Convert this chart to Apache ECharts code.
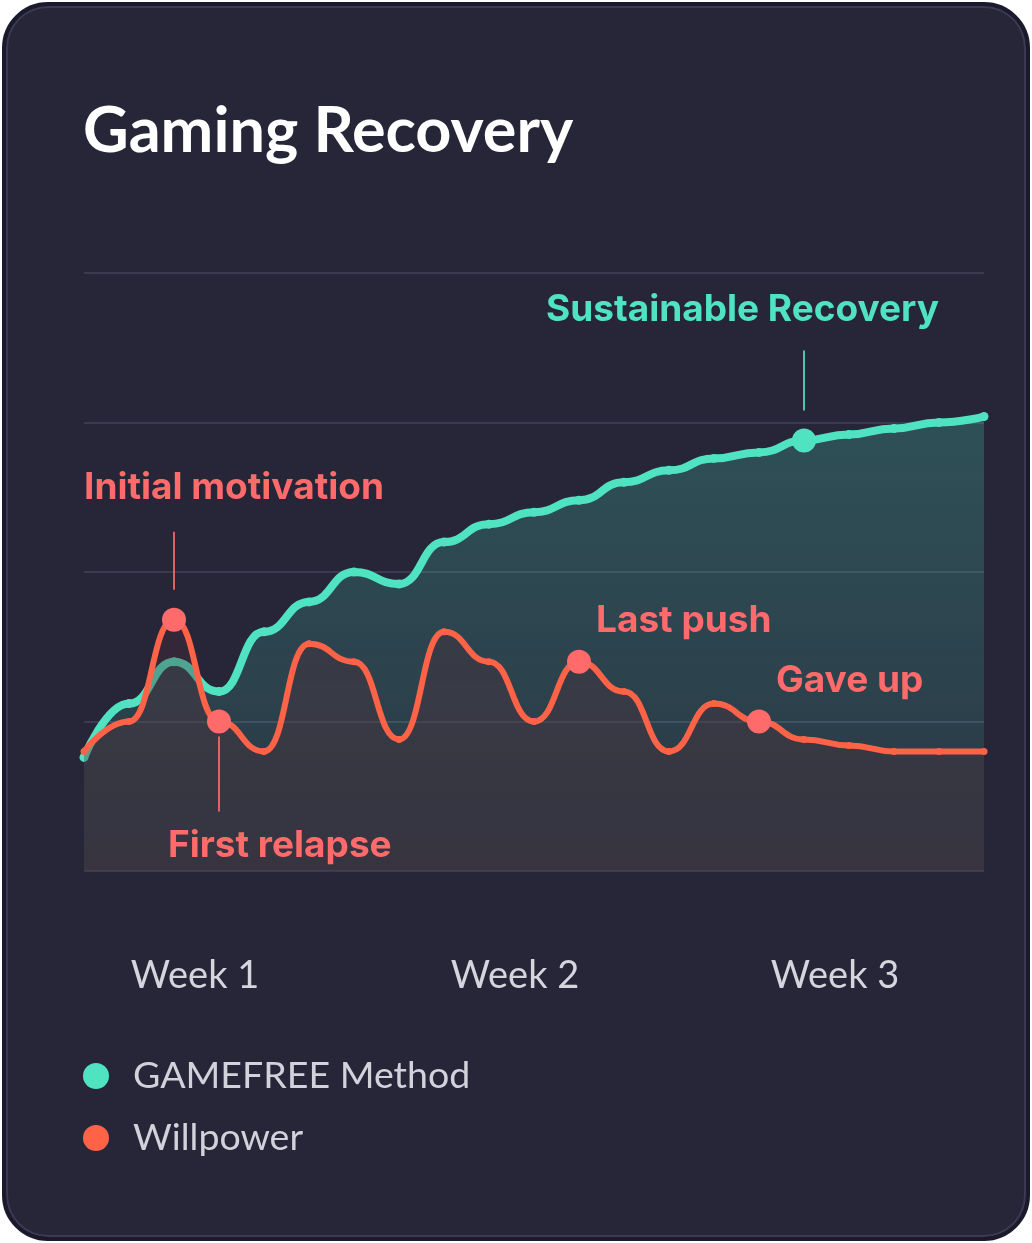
<!DOCTYPE html>
<html>
<head>
<meta charset="utf-8">
<script src="https://cdn.jsdelivr.net/npm/echarts@6/dist/echarts.min.js"></script>
<style>
  html, body { margin: 0; padding: 0; background: #ffffff; }
  #card {
    position: absolute; left: 2px; top: 2px; width: 1028px; height: 1239px;
    box-sizing: border-box; border-radius: 46px; background: #262638;
    border: 4px solid #1b1a2c; box-shadow: inset 0 0 0 2px #3b3a52;
  }
  #chart { position: absolute; left: 0; top: 0; width: 1032px; height: 1243px; }
</style>
</head>
<body>
<div id="card"></div>
<div id="chart"></div>
<script>
// ---- data ----
const days = ['Day 1','Day 2','Day 3','Day 4','Day 5','Day 6','Day 7','Day 8','Day 9','Day 10','Day 11',
              'Day 12','Day 13','Day 14','Day 15','Day 16','Day 17','Day 18','Day 19','Day 20','Day 21'];
const gamefree = [19, 28, 35, 30, 40, 45, 50, 48, 55, 58, 60, 62, 65, 67, 69, 70, 72, 73, 74, 75, 76];
const willpower = [20, 25, 42, 25, 20, 38, 35, 22, 40, 35, 25, 35, 30, 20, 28, 25, 22, 21, 20, 20, 20];
const weekLabels = ['Week 1', 'Week 2', 'Week 3'];
const seriesNames = ['GAMEFREE Method', 'Willpower'];
const notes = [
  { series: 1, day: 2,  text: 'Initial motivation' },
  { series: 1, day: 3,  text: 'First relapse' },
  { series: 1, day: 11, text: 'Last push' },
  { series: 1, day: 15, text: 'Gave up' },
  { series: 0, day: 16, text: 'Sustainable Recovery' }
];

// ---- styles ----
const TEAL = '#50e3c2';
const RED = '#ff6347';
const RED_NOTE = '#ff6b6b';
const noteLayout = {
  'Initial motivation':   { line: [-88, -30], tx: -90, ty: -132, align: 'left' },
  'First relapse':        { line: [15, 90],   tx: -51, ty: 124,  align: 'left' },
  'Last push':            { line: null,       tx: 17,  ty: -41,  align: 'left' },
  'Gave up':              { line: null,       tx: 17,  ty: -41,  align: 'left' },
  'Sustainable Recovery': { line: [-90, -30], tx: 135, ty: -131, align: 'right' }
};

const chart = echarts.init(document.getElementById('chart'), null, { renderer: 'canvas' });

const option = {
  backgroundColor: 'transparent',
  animation: false,
  title: {
    text: 'Gaming Recovery', left: 83, top: 100, padding: 0,
    textStyle: { fontFamily: 'Lato', fontWeight: 'bold', fontSize: 63, color: '#ffffff' }
  },
  legend: {
    orient: 'vertical', left: 83, top: 1055, itemWidth: 26, itemHeight: 26, itemGap: 20, padding: 0,
    icon: 'circle',
    data: seriesNames,
    textStyle: { fontFamily: 'Lato', fontSize: 37.5, color: '#d2d2dc', lineHeight: 42, padding: [0, 0, 0, 19] }
  },
  grid: [
    { left: 84, right: 48, top: 273, bottom: 372 },
    { left: 35, right: 37, top: 860, bottom: 372 }
  ],
  xAxis: [
    { type: 'category', data: days, boundaryGap: false, gridIndex: 0,
      axisLine: { show: false }, axisTick: { show: false }, axisLabel: { show: false } },
    { type: 'category', data: weekLabels, boundaryGap: true, gridIndex: 1,
      axisLine: { show: false }, axisTick: { show: false },
      axisLabel: { fontFamily: 'Lato', fontSize: 38, color: '#d5d5de', margin: 86 } }
  ],
  yAxis: [
    { type: 'value', min: 0, max: 100, interval: 25, gridIndex: 0,
      axisLine: { show: false }, axisTick: { show: false }, axisLabel: { show: false },
      splitLine: { lineStyle: { color: '#3b3b4f', width: 2 } } },
    { type: 'value', gridIndex: 1, show: false }
  ],
  series: [
    {
      name: seriesNames[0], type: 'line', data: gamefree, smooth: 0.5, smoothMonotone: 'x',
      symbol: 'circle', symbolSize: 9, showSymbol: true,
      itemStyle: { color: TEAL },
      lineStyle: { color: TEAL, width: 8 },
      areaStyle: {
        color: new echarts.graphic.LinearGradient(0, 0, 0, 1, [
          { offset: 0, color: 'rgba(80,227,194,0.32)' },
          { offset: 1, color: 'rgba(80,227,194,0.14)' }
        ])
      },
      z: 2
    },
    {
      name: seriesNames[1], type: 'line', data: willpower, smooth: 0.5, smoothMonotone: 'x',
      symbol: 'circle', symbolSize: 7, showSymbol: true,
      itemStyle: { color: RED },
      lineStyle: { color: RED, width: 6 },
      areaStyle: { color: 'rgba(80,46,58,0.5)' },
      z: 3
    }
  ]
};
chart.setOption(option);

// annotations placed via the chart's own scales
const graphics = [];
const seriesData = [gamefree, willpower];
notes.forEach(function (n) {
  const p = chart.convertToPixel({ seriesIndex: n.series }, [n.day, seriesData[n.series][n.day]]);
  const lay = noteLayout[n.text];
  const col = n.series === 0 ? TEAL : RED_NOTE;
  if (lay.line) {
    graphics.push({ type: 'line', z: 20,
      shape: { x1: p[0], y1: p[1] + lay.line[0], x2: p[0], y2: p[1] + lay.line[1] },
      style: { stroke: col, lineWidth: 2, opacity: 0.85 } });
  }
  graphics.push({ type: 'circle', z: 21, shape: { cx: p[0], cy: p[1], r: 12 }, style: { fill: col } });
  graphics.push({ type: 'text', z: 21, x: p[0] + lay.tx, y: p[1] + lay.ty,
    style: { text: n.text, fill: col, font: '700 37px Inter', textAlign: lay.align, textVerticalAlign: 'middle' } });
});
chart.setOption({ graphic: graphics });
</script>
</body>
</html>
